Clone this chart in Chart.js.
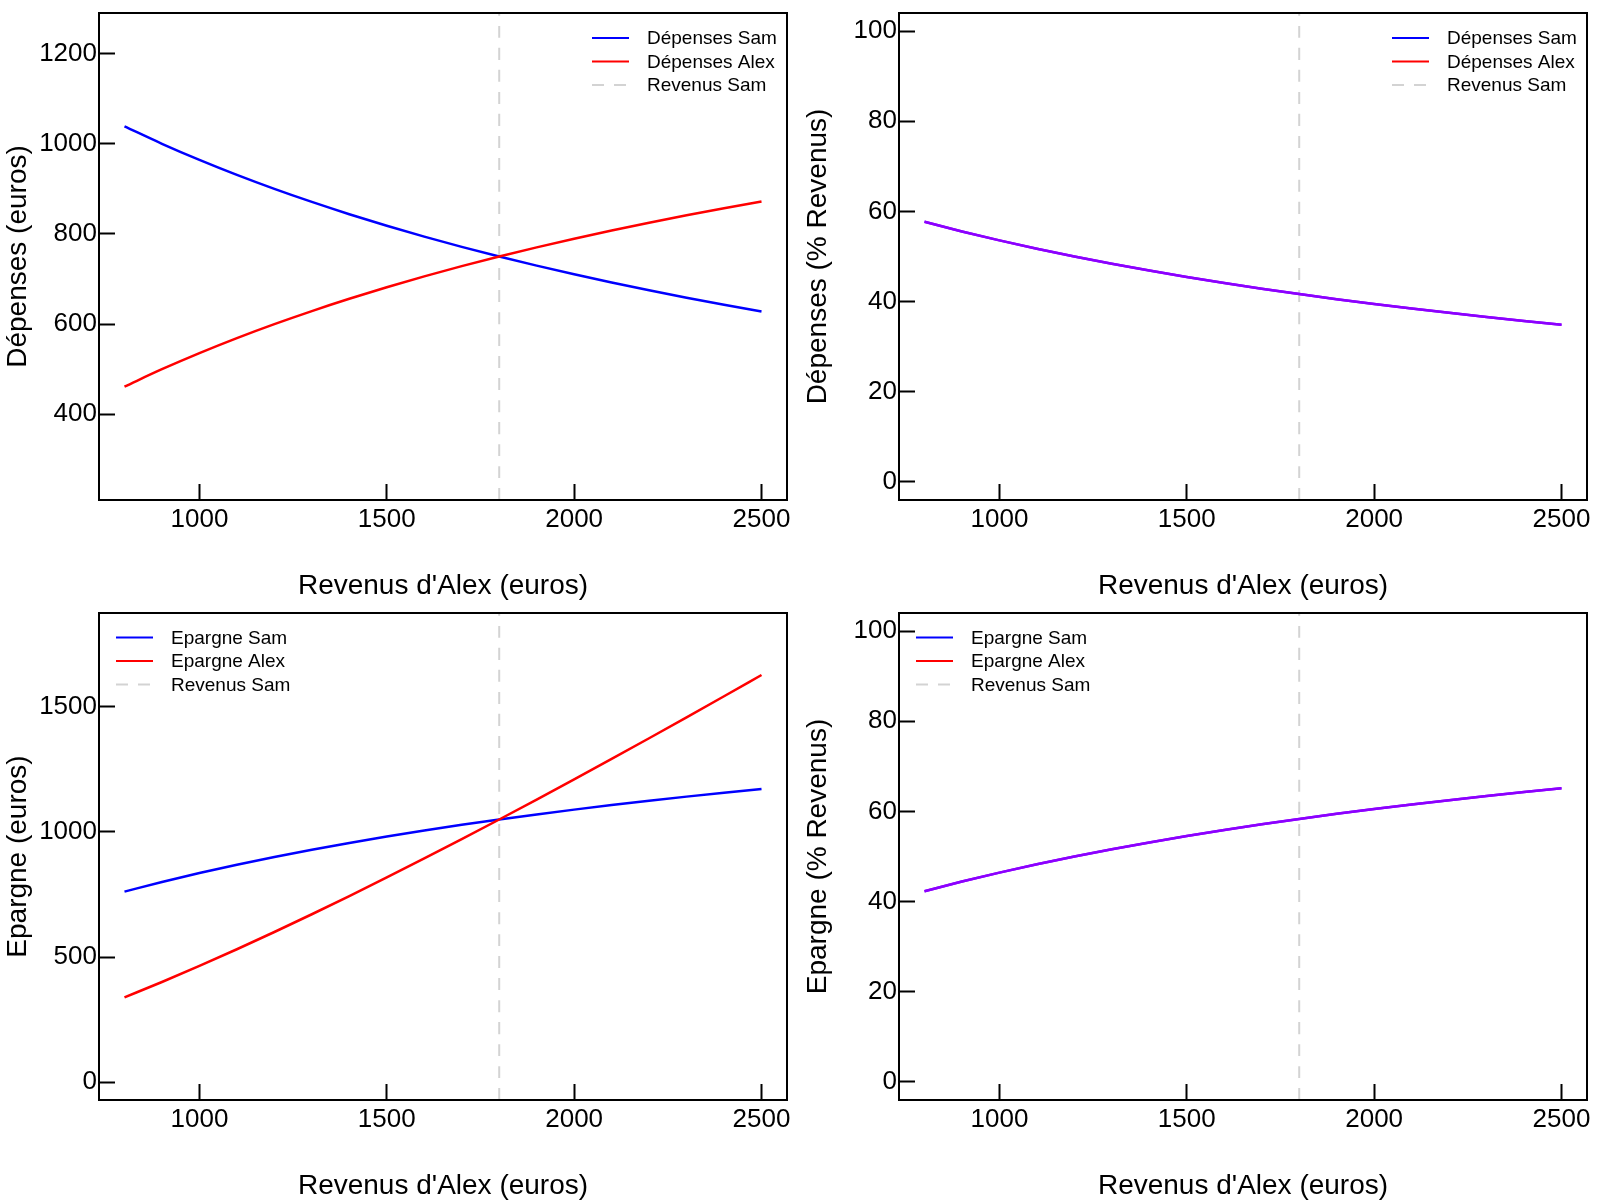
<!DOCTYPE html>
<html>
<head>
<meta charset="utf-8">
<script src="https://cdn.jsdelivr.net/npm/chart.js@4"></script>
<style>
  body { margin: 0; background: #fff; }
  #grid { display: grid; grid-template-columns: 800px 800px; width: 1600px; height: 1200px; }
  canvas { display: block; }
</style>
</head>
<body>
<div id="grid">
  <canvas id="depEuros" width="800" height="600"></canvas>
  <canvas id="depPct" width="800" height="600"></canvas>
  <canvas id="epEuros" width="800" height="600"></canvas>
  <canvas id="epPct" width="800" height="600"></canvas>
</div>
<script>
// Revenus d'Alex (x) - Sam gagne 1800
const revenusAlex = [800, 900, 1000, 1100, 1200, 1300, 1400, 1500, 1600, 1700, 1800, 1900, 2000, 2100, 2200, 2300, 2400, 2500];
const revenuSam = 1800;

const depensesSam = [1038.5, 1000, 964.3, 931.0, 900, 871.0, 843.8, 818.2, 794.1, 771.4, 750, 729.7, 710.5, 692.3, 675, 658.5, 642.9, 627.9];
const depensesAlex = [461.5, 500, 535.7, 569.0, 600, 629.0, 656.2, 681.8, 705.9, 728.6, 750, 770.3, 789.5, 807.7, 825, 841.5, 857.1, 872.1];
const depensesSamPct = [57.69, 55.56, 53.57, 51.72, 50.00, 48.39, 46.88, 45.45, 44.12, 42.86, 41.67, 40.54, 39.47, 38.46, 37.50, 36.59, 35.71, 34.88];
const depensesAlexPct = [57.69, 55.56, 53.57, 51.72, 50.00, 48.39, 46.88, 45.45, 44.12, 42.86, 41.67, 40.54, 39.47, 38.46, 37.50, 36.59, 35.71, 34.88];

const epargneSam = [761.5, 800, 835.7, 869.0, 900, 929.0, 956.2, 981.8, 1005.9, 1028.6, 1050, 1070.3, 1089.5, 1107.7, 1125, 1141.5, 1157.1, 1172.1];
const epargneAlex = [338.5, 400, 464.3, 531.0, 600, 671.0, 743.8, 818.2, 894.1, 971.4, 1050, 1129.7, 1210.5, 1292.3, 1375, 1458.5, 1542.9, 1627.9];
const epargneSamPct = [42.31, 44.44, 46.43, 48.28, 50.00, 51.61, 53.12, 54.55, 55.88, 57.14, 58.33, 59.46, 60.53, 61.54, 62.50, 63.41, 64.29, 65.12];
const epargneAlexPct = [42.31, 44.44, 46.43, 48.28, 50.00, 51.61, 53.12, 54.55, 55.88, 57.14, 58.33, 59.46, 60.53, 61.54, 62.50, 63.41, 64.29, 65.12];

const xTicks = [1000, 1500, 2000, 2500];
const depTicks = [400, 600, 800, 1000, 1200];
const pctTicks = [0, 20, 40, 60, 80, 100];
const epTicks = [0, 500, 1000, 1500];

const xLimits = [732, 2568];
const depLimits = [210, 1290];
const pctLimits = [-4, 104];
const epLimits = [-72, 1876];

const BLUE = '#0000ff';
const RED = '#ff0000';
const PURPLE = '#8c00ff';
const GREY = '#d3d3d3';

Chart.defaults.font.family = "'Liberation Sans', Arial, sans-serif";
Chart.defaults.color = '#000';
Chart.defaults.animation = false;

const toPoints = ys => revenusAlex.map((x, i) => ({ x: x, y: ys[i] }));

// box around the plot region, like R's bty="o"
const frame = {
    id: 'frame',
    afterDraw(chart) {
        const { ctx, chartArea: a } = chart;
        ctx.save();
        ctx.strokeStyle = '#000';
        ctx.lineWidth = 2;
        ctx.strokeRect(a.left, a.top, a.right - a.left, a.bottom - a.top);
        ctx.restore();
    }
};

// R-style legend with no box
const boxLegend = {
    id: 'boxLegend',
    afterDraw(chart, args, opts) {
        const { ctx, chartArea: a } = chart;
        const x0 = opts.side === 'right' ? a.right - opts.dx : a.left + opts.dx;
        ctx.save();
        ctx.font = "19px 'Liberation Sans', Arial, sans-serif";
        ctx.textBaseline = 'middle';
        ctx.fillStyle = '#000';
        chart.data.datasets.forEach((ds, i) => {
            const y = a.top + opts.dy + i * 23.5;
            ctx.strokeStyle = ds.legendColor || ds.borderColor;
            ctx.lineWidth = 2;
            ctx.setLineDash(ds.borderDash || []);
            ctx.beginPath();
            ctx.moveTo(x0, y);
            ctx.lineTo(x0 + 37, y);
            ctx.stroke();
            ctx.fillText(ds.label, x0 + 55, y + 1);
        });
        ctx.restore();
    }
};

function buildScales(yLimits, yTicks, yTitle) {
    return {
        x: {
            type: 'linear',
            min: xLimits[0],
            max: xLimits[1],
            afterBuildTicks: s => { s.ticks = xTicks.map(v => ({ value: v })); },
            afterFit: s => { s.height = 100; s.paddingLeft = 0; s.paddingRight = 0; },
            grid: { drawOnChartArea: false, tickLength: -16, tickWidth: 2, tickColor: '#000' },
            border: { display: false },
            ticks: { padding: 20, autoSkip: false, maxRotation: 0, font: { size: 26 }, callback: v => String(v) },
            title: { display: true, text: "Revenus d'Alex (euros)", font: { size: 28 }, padding: { top: 0, bottom: -3 } }
        },
        y: {
            type: 'linear',
            min: yLimits[0],
            max: yLimits[1],
            afterBuildTicks: s => { s.ticks = yTicks.map(v => ({ value: v })); },
            afterFit: s => { s.width = 99; s.paddingTop = 0; s.paddingBottom = 0; },
            grid: { drawOnChartArea: false, tickLength: -16, tickWidth: 2, tickColor: '#000' },
            border: { display: false },
            ticks: { padding: 18, autoSkip: false, font: { size: 26 }, callback: v => String(v) },
            title: { display: true, text: yTitle, font: { size: 28 }, padding: { top: 1, bottom: 0 } }
        }
    };
}

function makeChart(id, datasets, yLimits, yTicks, yTitle, legendPos) {
    return new Chart(document.getElementById(id), {
        type: 'line',
        data: { datasets: datasets },
        options: {
            responsive: false,
            layout: { autoPadding: false, padding: { left: 0, top: 13, right: 13, bottom: 0 } },
            elements: { point: { radius: 0 }, line: { borderWidth: 2.5, tension: 0.4, cubicInterpolationMode: 'monotone' } },
            scales: buildScales(yLimits, yTicks, yTitle),
            plugins: {
                legend: { display: false },
                tooltip: { enabled: false },
                boxLegend: legendPos
            }
        },
        plugins: [frame, boxLegend]
    });
}

function revenuSamLine(yLimits) {
    return {
        label: 'Revenus Sam',
        data: [{ x: revenuSam, y: yLimits[0] }, { x: revenuSam, y: yLimits[1] }],
        borderColor: GREY,
        borderWidth: 2,
        borderDash: [12, 10],
        tension: 0,
        order: 3
    };
}

makeChart('depEuros', [
    { label: 'Dépenses Sam', data: toPoints(depensesSam), borderColor: BLUE, order: 2 },
    { label: 'Dépenses Alex', data: toPoints(depensesAlex), borderColor: RED, order: 1 },
    revenuSamLine(depLimits)
], depLimits, depTicks, 'Dépenses (euros)', { side: 'right', dx: 195, dy: 25 });

makeChart('depPct', [
    { label: 'Dépenses Sam', data: toPoints(depensesSamPct), borderColor: PURPLE, legendColor: BLUE, order: 2 },
    { label: 'Dépenses Alex', data: toPoints(depensesAlexPct), borderColor: PURPLE, legendColor: RED, order: 1 },
    revenuSamLine(pctLimits)
], pctLimits, pctTicks, 'Dépenses (% Revenus)', { side: 'right', dx: 195, dy: 25 });

makeChart('epEuros', [
    { label: 'Epargne Sam', data: toPoints(epargneSam), borderColor: BLUE, order: 2 },
    { label: 'Epargne Alex', data: toPoints(epargneAlex), borderColor: RED, order: 1 },
    revenuSamLine(epLimits)
], epLimits, epTicks, 'Epargne (euros)', { side: 'left', dx: 17, dy: 24.5 });

makeChart('epPct', [
    { label: 'Epargne Sam', data: toPoints(epargneSamPct), borderColor: PURPLE, legendColor: BLUE, order: 2 },
    { label: 'Epargne Alex', data: toPoints(epargneAlexPct), borderColor: PURPLE, legendColor: RED, order: 1 },
    revenuSamLine(pctLimits)
], pctLimits, pctTicks, 'Epargne (% Revenus)', { side: 'left', dx: 17, dy: 24.5 });
</script>
</body>
</html>
